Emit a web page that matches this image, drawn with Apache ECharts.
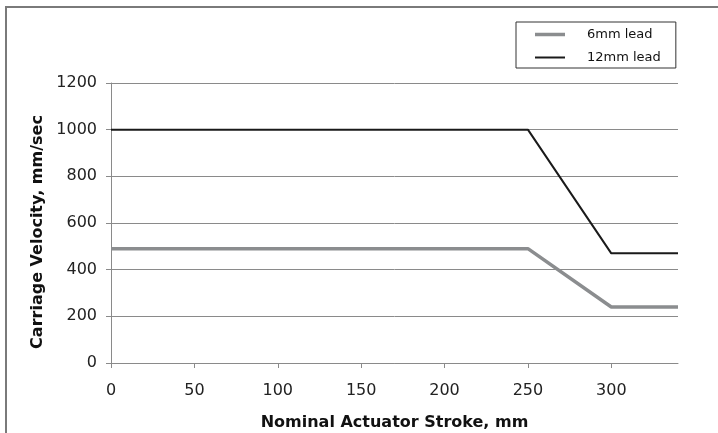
<!DOCTYPE html>
<html>
<head>
<meta charset="utf-8">
<script src="https://cdn.jsdelivr.net/npm/echarts@6/dist/echarts.min.js"></script>
<style>
html,body{margin:0;padding:0;background:#fff;}
#chart{width:718px;height:433px;}
</style>
</head>
<body>
<div id="chart"></div>
<script>
const strokeMm = [0, 250, 300, 340];
const lead6mm = [490, 490, 240, 240];
const lead12mm = [1000, 1000, 470, 470];
const xTickValues = [0, 50, 100, 150, 200, 250, 300];
const seriesNames = ['6mm lead', '12mm lead'];

const FONT = 'DejaVu Sans';
const chart = echarts.init(document.getElementById('chart'), null, {renderer: 'canvas'});
const toPairs = (xs, ys) => xs.map((x, i) => [x, ys[i]]);

chart.setOption({
  animation: false,
  backgroundColor: '#ffffff',
  grid: {left: 111, right: 40, top: 83, bottom: 70, containLabel: false, outerBoundsMode: 'none'},
  legend: {
    orient: 'vertical',
    left: 516, top: 22,
    padding: [6, 15, 4, 19],
    itemGap: 10,
    itemWidth: 30, itemHeight: 12,
    symbolKeepAspect: true,
    borderColor: '#333', borderWidth: 1,
    data: [
      {name: seriesNames[0], icon: 'path://M0,0H30V3.5H0Z'},
      {name: seriesNames[1], icon: 'path://M0,0H30V2H0Z'}
    ],
    textStyle: {fontFamily: FONT, fontSize: 13, color: '#111', padding: [0, 0, 0, 17]}
  },
  xAxis: {
    type: 'value', min: 0, max: 340, interval: 50,
    name: 'Nominal Actuator Stroke, mm',
    nameLocation: 'middle', nameGap: 52,
    nameTextStyle: {fontFamily: FONT, fontWeight: 'bold', fontSize: 16, color: '#111'},
    axisLine: {show: true, lineStyle: {color: '#8a8a8a', width: 1}},
    axisTick: {show: true, length: 5, inside: false, customValues: xTickValues, lineStyle: {color: '#8a8a8a'}},
    axisLabel: {customValues: xTickValues, margin: 20, fontFamily: FONT, fontSize: 16, color: '#222',
      formatter: v => String(v)},
    splitLine: {show: false}
  },
  yAxis: {
    type: 'value', min: 0, max: 1200, interval: 200,
    name: 'Carriage Velocity, mm/sec',
    nameLocation: 'middle', nameGap: 65, nameRotate: 90,
    nameTextStyle: {fontFamily: FONT, fontWeight: 'bold', fontSize: 16, color: '#111', padding: [0, 18, 0, 0]},
    axisLine: {show: true, lineStyle: {color: '#8a8a8a', width: 1}},
    axisTick: {show: true, length: 5, inside: false, lineStyle: {color: '#8a8a8a'}},
    axisLabel: {margin: 14, fontFamily: FONT, fontSize: 16, color: '#222', formatter: v => String(v)},
    splitLine: {show: true, lineStyle: {color: '#8a8a8a', width: 1}}
  },
  series: [
    {
      name: seriesNames[0], type: 'line', data: toPairs(strokeMm, lead6mm),
      symbol: 'none', lineStyle: {color: '#8b8d8f', width: 3.5}, itemStyle: {color: '#8b8d8f'}
    },
    {
      name: seriesNames[1], type: 'line', data: toPairs(strokeMm, lead12mm),
      symbol: 'none', lineStyle: {color: '#1a1a1a', width: 2}, itemStyle: {color: '#1a1a1a'}
    }
  ],
  graphic: [
    {type: 'line', shape: {x1: 6, y1: 7, x2: 6, y2: 433}, style: {stroke: '#7a7a7a', lineWidth: 2}},
    {type: 'line', shape: {x1: 5, y1: 7, x2: 718, y2: 7}, style: {stroke: '#7a7a7a', lineWidth: 2}}
  ]
});
</script>
</body>
</html>
